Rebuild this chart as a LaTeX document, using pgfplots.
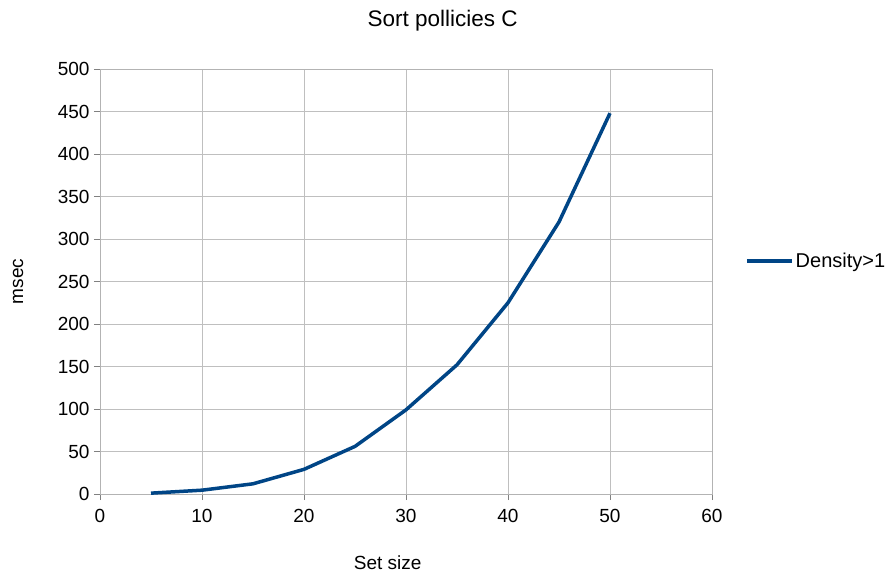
\documentclass[border=0pt]{standalone}
\usepackage{pgfplots}
\pgfplotsset{compat=1.18}
\usepackage{fontspec}
\setmainfont{Liberation Sans}
\definecolor{grid}{HTML}{B3B3B3}
\definecolor{ser}{HTML}{004586}
\begin{document}
\begin{tikzpicture}
\useasboundingbox (-100pt,-82pt) rectangle (796pt,494pt);
\begin{axis}[
  at={(0pt,0pt)}, anchor=south west,
  scale only axis, width=612pt, height=425pt,
  xmin=0, xmax=60, ymin=0, ymax=500,
  xtick={0,10,...,60}, ytick={0,50,...,500},
  ymajorgrids, xmajorgrids,
  major grid style={grid, line width=0.9pt},
  axis line style={grid, line width=0.9pt},
  tick style={grid, line width=0.9pt},
  tick align=outside, major tick length=6pt,
  xtick pos=bottom, ytick pos=left,
  /pgf/number format/assume math mode=true,
  ticklabel style={font=\fontsize{19}{21}\selectfont},
  xticklabel style={yshift=-6pt},
  yticklabel style={xshift=-1pt},
  title={Sort pollicies C},
  title style={font=\fontsize{22.5}{26}\selectfont, at={(axis description cs:0.56,1.10)}, anchor=center},
  xlabel={Set size},
  ylabel={msec},
  label style={font=\fontsize{19}{21}\selectfont},
  xlabel style={at={(axis description cs:0.47,-0.162)}, anchor=center},
  ylabel style={at={(axis description cs:-0.134,0.5)}, anchor=center},
  legend style={at={(1,0.548)}, anchor=west, xshift=30pt, draw=none, fill=none,
    font=\fontsize{20}{22}\selectfont},
  legend cell align=left,
  legend image code/.code={\draw[#1, line width=3.5pt] (0pt,0pt) -- (45pt,0pt);},
]
\addplot[ser, line width=3.5pt, line join=round] coordinates {
(5,1) (10,4.5) (15,12) (20,29) (25,56) (30,99) (35,152) (40,225) (45,320) (50,448)
};
\addlegendentry{Density>1}
\end{axis}
\end{tikzpicture}
\end{document}
